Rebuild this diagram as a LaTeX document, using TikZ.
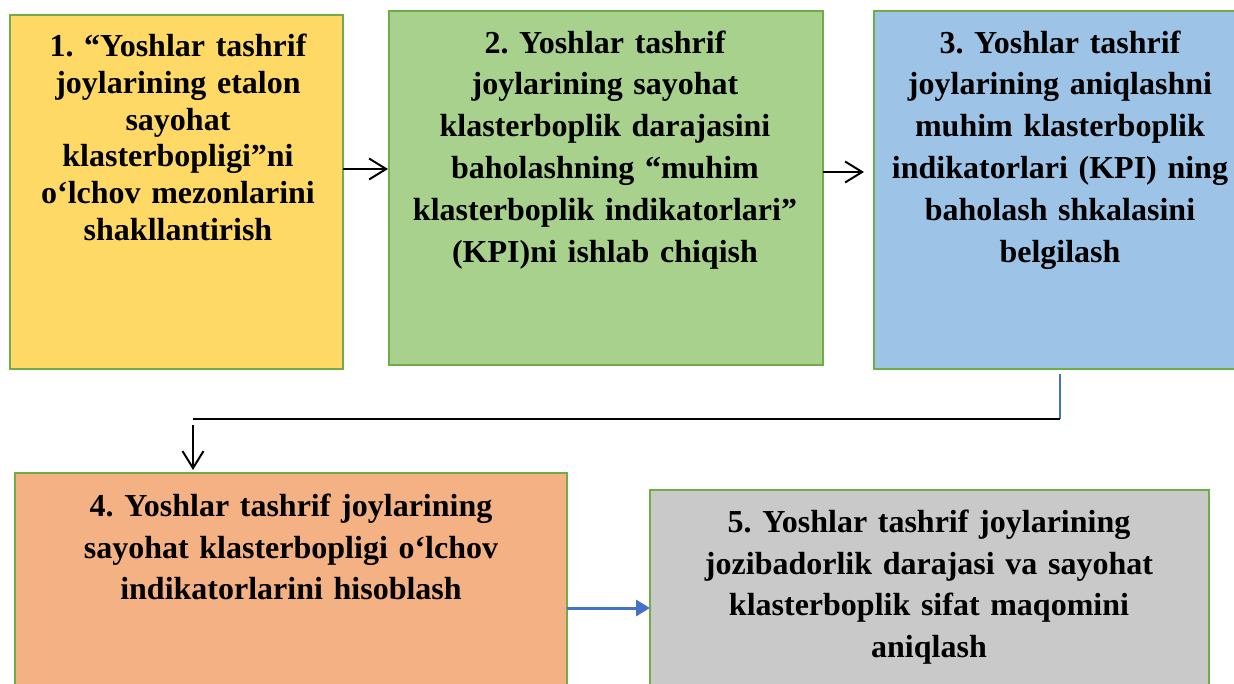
\documentclass[tikz,border=0pt]{standalone}
\usepackage{fontspec}
\setmainfont{Liberation Serif}
\usetikzlibrary{arrows.meta}
\definecolor{cyel}{HTML}{FFD966}
\definecolor{cgrn}{HTML}{A9D18E}
\definecolor{cblu}{HTML}{9DC3E6}
\definecolor{corg}{HTML}{F4B183}
\definecolor{cgry}{HTML}{C9C9C9}
\definecolor{cbrd}{HTML}{70AD47}
\definecolor{cline}{HTML}{4472C4}
\frenchspacing
\begin{document}
\begin{tikzpicture}[x=1pt,y=-1pt,
  box/.style={draw=cbrd, line width=2.5pt, inner sep=0pt, outer sep=0pt, anchor=north west},
  txt/.style={anchor=north, inner sep=0pt, text width=460pt, align=center,
    font=\bfseries\fontsize{32}{41.8}\selectfont},
  txttight/.style={txt, font=\bfseries\fontsize{32}{36.7}\selectfont},
  openarrow/.style={draw=black, line width=2pt, -{Straight Barb[length=17pt,width=21pt,line width=2pt]}},
  bluearrow/.style={draw=cline, line width=3pt, -{Triangle[length=14pt,width=16pt]}},
  blueline/.style={draw=cline, line width=2pt},
  thinline/.style={draw=black, line width=1.5pt}]
\useasboundingbox (0,0) rectangle (1234,684);
\clip (0,0) rectangle (1234,684);
\fill[white] (0,0) rectangle (1234,684);

% boxes
\node[box, fill=cyel, minimum width=333pt, minimum height=354pt] (b1) at (10,15) {};
\node[box, fill=cgrn, minimum width=434pt, minimum height=354pt] (b2) at (389,11) {};
\node[box, fill=cblu, minimum width=372pt, minimum height=358pt] (b3) at (874,11) {};
\node[box, fill=corg, minimum width=552pt, minimum height=240pt] (b4) at (15,473) {};
\node[box, fill=cgry, minimum width=559pt, minimum height=230pt] (b5) at (650,490) {};

% texts
\node[txttight] (t1) at (178,31.7) {\rule{0pt}{25pt}1. “Yoshlar tashrif\\joylarining etalon\\sayohat\\klasterbopligi”ni\\o‘lchov mezonlarini\\shakllantirish};
\node[txt] (t2) at (605,28) {\rule{0pt}{25pt}2. Yoshlar tashrif\\joylarining sayohat\\klasterboplik darajasini\\baholashning “muhim\\klasterboplik indikatorlari”\\(KPI)ni ishlab chiqish};
\node[txt] (t3) at (1060,28) {\rule{0pt}{25pt}3. Yoshlar tashrif\\joylarining aniqlashni\\muhim klasterboplik\\indikatorlari (KPI) ning\\baholash shkalasini\\belgilash};
\node[txt] (t4) at (291,491) {\rule{0pt}{25pt}4. Yoshlar tashrif joylarining\\sayohat klasterbopligi o‘lchov\\indikatorlarini hisoblash};
\node[txt] (t5) at (929,507) {\rule{0pt}{25pt}5. Yoshlar tashrif joylarining\\jozibadorlik darajasi va sayohat\\klasterboplik sifat maqomini\\aniqlash};

% connectors
\draw[openarrow, shorten >=1pt] (b1.east |- 0,169) -- (b2.west |- 0,169);
\draw[openarrow, shorten >=10pt] (b2.east |- 0,172) -- (b3.west |- 0,172);
\coordinate (c1) at (1060,419);
\coordinate (c2) at (193,419);
\draw[blueline] ([yshift=-5pt]b3.south) -- (c1);
\draw[thinline] (c1) -- (c2);
\draw[openarrow, shorten >=3pt] ([yshift=-6pt]c2) -- (b4.north -| c2);
\draw[bluearrow] (b4.east |- 0,608) -- (b5.west |- 0,608);
\end{tikzpicture}
\end{document}
